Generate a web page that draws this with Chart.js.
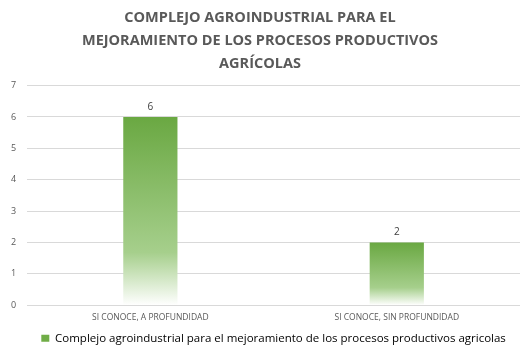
<!DOCTYPE html>
<html>
<head>
<meta charset="utf-8">
<script src="https://cdn.jsdelivr.net/npm/chart.js@4/dist/chart.umd.min.js"></script>
<style>
  html, body { margin: 0; padding: 0; background: #fff; }
  #wrap { width: 520px; height: 347px; }
</style>
</head>
<body>
<div id="wrap"><canvas id="myChart"></canvas></div>
<script>
const categories = ['SI CONOCE, A PROFUNDIDAD', 'SI CONOCE, SIN PROFUNDIDAD'];
const values = [6, 2];
const seriesName = 'Complejo agroindustrial para el mejoramiento de los procesos productivos agricolas';
const titleLines = ['COMPLEJO AGROINDUSTRIAL PARA EL', 'MEJORAMIENTO DE LOS PROCESOS PRODUCTIVOS', 'AGRÍCOLAS'];

const green = '#70AD47';
const textGray = '#595959';

// gradient for each bar: solid green at top fading to white at the base
function barFill(context) {
    const chart = context.chart;
    const yScale = chart.scales.y;
    if (!yScale || context.dataIndex === undefined) return green;
    const v = context.dataset.data[context.dataIndex];
    const top = yScale.getPixelForValue(v);
    const bottom = yScale.getPixelForValue(0);
    if (!isFinite(top) || !isFinite(bottom) || bottom - top < 1) return green;
    const g = chart.ctx.createLinearGradient(0, top, 0, bottom);
    g.addColorStop(0, '#6AA842');
    g.addColorStop(0.72, '#A6CF8C');
    g.addColorStop(1, '#FFFFFF');
    return g;
}

const valueLabels = {
    id: 'valueLabels',
    afterDatasetsDraw(chart) {
        const ctx = chart.ctx;
        const meta = chart.getDatasetMeta(0);
        ctx.save();
        ctx.font = '10px "Open Sans", sans-serif';
        ctx.fillStyle = '#404040';
        ctx.textAlign = 'center';
        ctx.textBaseline = 'middle';
        meta.data.forEach(function(bar, i) {
            ctx.fillText(String(values[i]), bar.x, bar.y - 10);
        });
        ctx.restore();
    }
};

const ctx = document.getElementById('myChart').getContext('2d');
const chart = new Chart(ctx, {
    type: 'bar',
    data: {
        labels: categories,
        datasets: [{
            label: seriesName,
            data: values,
            backgroundColor: barFill,
            borderWidth: 0,
            barPercentage: 0.22,
            categoryPercentage: 1
        }]
    },
    options: {
        responsive: true,
        maintainAspectRatio: false,
        animation: false,
        layout: { padding: { left: 0, right: 0, top: 6, bottom: -7 } },
        plugins: {
            title: {
                display: true,
                text: titleLines,
                color: textGray,
                font: { family: '"Open Sans", sans-serif', size: 14.5, weight: 'bold', lineHeight: 1.6 },
                padding: { top: 0, bottom: 10 }
            },
            legend: {
                position: 'bottom',
                fullSize: false,
                labels: {
                    color: textGray,
                    font: { family: '"Open Sans", sans-serif', size: 11.5 },
                    boxWidth: 8,
                    boxHeight: 7,
                    padding: 3,
                    generateLabels: function(chart) {
                        return [{
                            text: seriesName,
                            fillStyle: green,
                            strokeStyle: green,
                            lineWidth: 0,
                            datasetIndex: 0
                        }];
                    }
                }
            },
            tooltip: { enabled: false }
        },
        scales: {
            x: {
                grid: { display: false, drawTicks: false },
                border: { color: '#D9D9D9' },
                ticks: {
                    color: textGray,
                    font: { family: '"Open Sans", sans-serif', size: 8.5 },
                    maxRotation: 0,
                    padding: 7
                }
            },
            y: {
                min: 0,
                max: 7,
                grid: { color: '#D9D9D9', drawTicks: false },
                border: { display: false },
                ticks: {
                    stepSize: 1,
                    color: textGray,
                    font: { family: '"Open Sans", sans-serif', size: 9 },
                    padding: 11
                }
            }
        }
    },
    plugins: [valueLabels]
});
</script>
</body>
</html>
